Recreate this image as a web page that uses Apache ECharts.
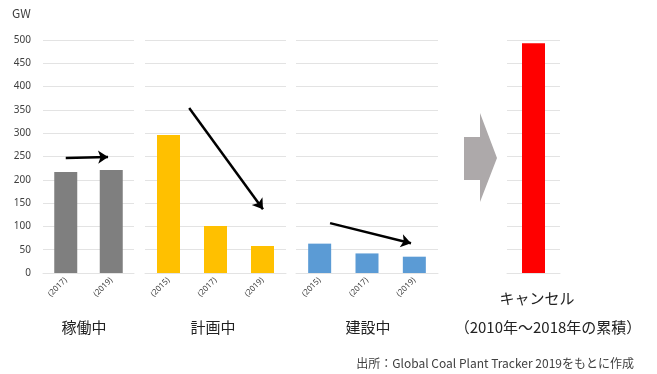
<!DOCTYPE html>
<html><head><meta charset="utf-8">
<script src="https://cdn.jsdelivr.net/npm/echarts@6/dist/echarts.min.js"></script>
<style>html,body{margin:0;padding:0;background:#fff}#c{width:657px;height:374px}</style>
</head><body><div id="c"></div>
<script>
// ---- data ----
const groupNames = ['稼働中', '計画中', '建設中', 'キャンセル'];
const catsOperating = ['(2017)', '(2019)'];
const valsOperating = [217, 221];
const catsPlanned = ['(2015)', '(2017)', '(2019)'];
const valsPlanned = [296, 101, 58];
const catsConstruction = ['(2015)', '(2017)', '(2019)'];
const valsConstruction = [63, 42, 35];
const catsCancelled = [''];
const valsCancelled = [493];
const cancelSubLabel = '（2010年～2018年の累積）';
const yTicks = { min: 0, max: 500, interval: 50 };
const unitLabel = 'GW';
const sourceNote = '出所：Global Coal Plant Tracker 2019をもとに作成';
// trend arrows: [x (category position), y (GW)] start -> end
const arrowOperating = [[0, 247], [0.93, 249]];
const arrowPlanned = [[0.44, 354], [2.01, 137]];
const arrowConstruction = [[0.22, 107], [1.93, 64]];

// ---- layout ----
const panels = [
  { cats: catsOperating, vals: valsOperating, color: '#7f7f7f', left: 43, width: 91, arrow: arrowOperating },
  { cats: catsPlanned, vals: valsPlanned, color: '#ffc000', left: 145, width: 141, arrow: arrowPlanned },
  { cats: catsConstruction, vals: valsConstruction, color: '#5b9bd5', left: 296, width: 142, arrow: arrowConstruction },
  { cats: catsCancelled, vals: valsCancelled, color: '#ff0000', left: 507, width: 53, arrow: null }
];
const TOP = 40, HEIGHT = 233;
const grid = [], xAxis = [], yAxis = [], series = [];
const gridColor = '#e3e3e3';
panels.forEach((p, i) => {
  grid.push({ left: p.left, width: p.width, top: TOP, height: HEIGHT });
  xAxis.push({
    type: 'category', gridIndex: i, data: p.cats,
    axisLine: { show: true, lineStyle: { color: gridColor } },
    axisTick: { show: false },
    axisLabel: { interval: 0, rotate: 45, fontSize: 8, color: '#404040', margin: 6, fontFamily: 'Noto Sans' }
  });
  yAxis.push({
    type: 'value', gridIndex: i, min: yTicks.min, max: yTicks.max, interval: yTicks.interval,
    axisLine: { show: false }, axisTick: { show: false },
    axisLabel: { show: i === 0, fontSize: 10, color: '#404040', margin: 12, fontFamily: 'Noto Sans' },
    splitLine: { lineStyle: { color: gridColor, width: 1 } }
  });
  series.push({
    type: 'bar', xAxisIndex: i, yAxisIndex: i, data: p.vals, barWidth: 23,
    itemStyle: { color: p.color }, silent: true
  });
});
panels.forEach((p, i) => {
  xAxis.push({ type: 'value', gridIndex: i, show: false, min: -0.5, max: p.cats.length - 0.5 });
  if (p.arrow) {
    series.push({
      type: 'line', xAxisIndex: panels.length + i, yAxisIndex: i, data: [], silent: true,
      markLine: {
        silent: true, animation: false,
        symbol: ['none', 'arrow'], symbolSize: 10,
        label: { show: false },
        lineStyle: { color: '#000', width: 2.5, type: 'solid' },
        data: [[{ coord: p.arrow[0] }, { coord: p.arrow[1] }]]
      }
    });
  }
});

const font = '"Noto Sans CJK JP", "Noto Sans", sans-serif';
const graphic = [
  { type: 'text', left: 12, top: 7, style: { text: unitLabel, fontSize: 12, fill: '#404040', fontFamily: font } },
  { type: 'polygon', shape: { points: [[464, 137], [480, 137], [480, 113], [497, 158], [480, 202], [480, 180], [464, 180]] },
    style: { fill: '#ada9aa' } },
  { type: 'text', x: 84, y: 327, style: { text: groupNames[0], fontSize: 15, fill: '#222', align: 'center', verticalAlign: 'middle', fontFamily: font } },
  { type: 'text', x: 213, y: 327, style: { text: groupNames[1], fontSize: 15, fill: '#222', align: 'center', verticalAlign: 'middle', fontFamily: font } },
  { type: 'text', x: 368, y: 327, style: { text: groupNames[2], fontSize: 15, fill: '#222', align: 'center', verticalAlign: 'middle', fontFamily: font } },
  { type: 'text', x: 537, y: 298, style: { text: groupNames[3], fontSize: 15, fill: '#222', align: 'center', verticalAlign: 'middle', fontFamily: font } },
  { type: 'text', x: 548, y: 327, style: { text: cancelSubLabel, fontSize: 15, fill: '#222', align: 'center', verticalAlign: 'middle', fontFamily: font } },
  { type: 'text', x: 634, y: 363, style: { text: sourceNote, fontSize: 12, fill: '#404040', align: 'right', verticalAlign: 'middle', fontFamily: font } }
];

const chart = echarts.init(document.getElementById('c'), null, { renderer: 'canvas' });
chart.setOption({ animation: false, backgroundColor: '#fff', grid, xAxis, yAxis, series, graphic });
</script></body></html>
